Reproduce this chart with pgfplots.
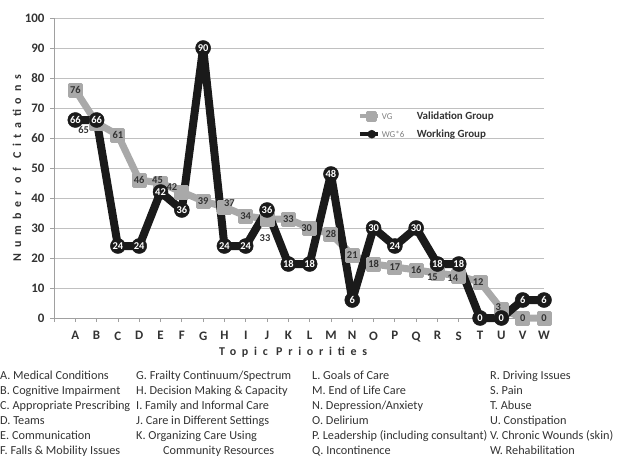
\documentclass[border=0pt]{standalone}
\usepackage{fontspec}
\setmainfont{Carlito}
\newfontfamily\spaced[LetterSpace=48]{Carlito}
\usepackage{pgfplots}
\usepackage{pgfplotstable}
\pgfplotsset{compat=1.18}

\definecolor{vgray}{HTML}{A9A9A9}
\definecolor{wblack}{HTML}{1A1A1A}
\definecolor{gridc}{HTML}{C0C0C0}
\definecolor{axc}{HTML}{A0A0A0}
\definecolor{txt}{HTML}{333333}

% validation group, with label shifts (bp)
\pgfplotstableread{
x  vg  dx  dy
1  76   0   0
2  65 -13  -7
3  61   0   0
4  46   0   0
5  45  -3   3
6  42 -10   5
7  39   0   0
8  37   5   4
9  34   0   0
10 33  -2 -19
11 33   0   0
12 30  -3   0
13 28   0   0
14 21   0   0
15 18   0   0
16 17   0   0
17 16   0   0
18 15  -5  -4
19 14  -6  -2
20 12  -2   0
21  3  -3   2
22  0   0   0
23  0   0   0
}\vgdata

% working group (x6)
\pgfplotstableread{
x  wg
1  66
2  66
3  24
4  24
5  42
6  36
7  90
8  24
9  24
10 36
11 18
12 18
13 48
14  6
15 30
16 24
17 30
18 18
19 18
20  0
21  0
22  6
23  6
}\wgdata

\begin{document}
\begin{tikzpicture}
\useasboundingbox (0bp,0bp) rectangle (629bp,-460bp);
\begin{axis}[
  at={(54bp,-318bp)}, anchor=south west,
  scale only axis, width=490bp, height=300bp,
  xmin=0, xmax=23, ymin=0, ymax=100,
  clip=false,
  axis x line*=bottom, axis y line*=left,
  axis line style={axc, line width=0.8bp},
  ymajorgrids, grid style={gridc, line width=0.8bp},
  ytick={0,10,...,100},
  xtick={0,...,23},
  xticklabels={,A,B,C,D,E,F,G,H,I,J,K,L,M,N,O,P,Q,R,S,T,U,V,W},
  tick align=outside, major tick length=4bp,
  tick style={axc, line width=0.8bp},
  /pgf/number format/assume math mode=true,
  ticklabel style={font=\fontsize{13}{13}\selectfont\bfseries, text=txt},
  yticklabel style={xshift=-2bp},
  xticklabel style={yshift=-6bp},
  xlabel={\spaced\bfseries Topic Priorities},
  ylabel={\spaced\bfseries Number of Citations},
  label style={font=\fontsize{12}{12}\selectfont, text=txt},
  xlabel style={at={(axis description cs:0.488,-0.113)}, anchor=center},
  ylabel style={at={(axis description cs:-0.0755,0.5)}, anchor=center, rotate=0},
  legend style={at={(axis cs:14.25,64.3)}, anchor=west, draw=none, fill=none,
    font=\fontsize{11}{13}\selectfont, row sep=5bp, inner sep=0pt},
  legend cell align=left,
  legend image code/.code={
    \draw[#1, line width=4bp, mark=none] (0bp,0bp) -- (18bp,0bp);
    \draw[#1, mark size=4bp] plot coordinates {(12bp,0bp)};
  },
]
\addplot[vgray, line width=7bp, line join=round,
  mark=square*, mark size=6bp,
  mark options={draw=vgray, fill=vgray, line width=3bp, line join=round},
  visualization depends on={\thisrow{dx}\as\dx},
  visualization depends on={\thisrow{dy}\as\dy},
  nodes near coords,
  every node near coord/.append style={anchor=center, inner sep=0pt,
    font=\fontsize{10.5}{10.5}\selectfont\bfseries, text=txt,
    xshift=\dx bp, yshift=\dy bp},
] table[x=x, y=vg] {\vgdata};
\addlegendentry{\makebox[35bp][l]{\fontsize{9}{9}\selectfont\color{gray}VG}\textbf{\color{txt}Validation Group}}

\addplot[wblack, line width=8bp, line join=round,
  mark=*, mark size=7.5bp,
  mark options={draw=wblack, fill=wblack, line width=0.5bp},
  nodes near coords,
  every node near coord/.append style={anchor=center, inner sep=0pt,
    font=\fontsize{10.5}{10.5}\selectfont\bfseries, text=white},
] table[x=x, y=wg] {\wgdata};
\addlegendentry{\makebox[35bp][l]{\fontsize{9}{9}\selectfont\color{gray}WG*6}\textbf{\color{txt}Working Group}}
\end{axis}

\begin{scope}[every node/.style={anchor=north west, inner sep=0pt, align=left,
    font=\fontsize{12.3}{15}\selectfont, text=txt}]
\node at (0bp,-371bp) {A. Medical Conditions\\B. Cognitive Impairment\\C. Appropriate Prescribing\\D. Teams\\E. Communication\\F. Falls \& Mobility Issues};
\node at (136bp,-371bp) {G. Frailty Continuum/Spectrum\\H. Decision Making \& Capacity\\I. Family and Informal Care\\J. Care in Different Settings\\K. Organizing Care Using\\\hspace*{27bp}Community Resources};
\node at (312bp,-371bp) {L. Goals of Care\\M. End of Life Care\\N. Depression/Anxiety\\O. Delirium\\P. Leadership (including consultant)\\Q. Incontinence};
\node at (490bp,-371bp) {R. Driving Issues\\S. Pain\\T. Abuse\\U. Constipation\\V. Chronic Wounds (skin)\\W. Rehabilitation};
\end{scope}
\end{tikzpicture}
\end{document}
